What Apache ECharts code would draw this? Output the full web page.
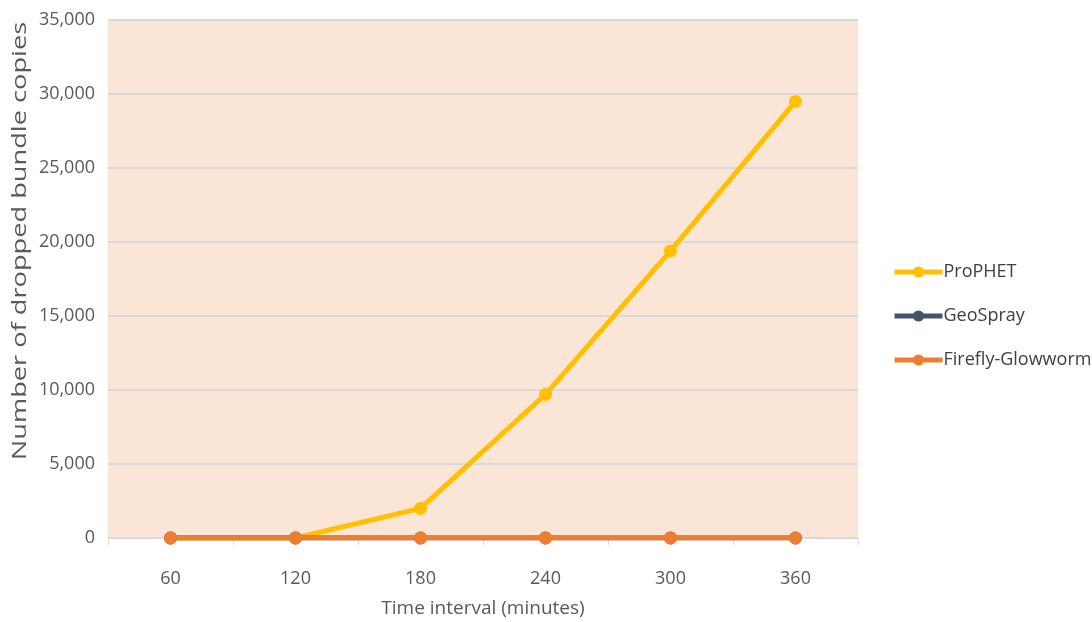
<!DOCTYPE html>
<html>
<head>
<meta charset="utf-8">
<script src="https://cdn.jsdelivr.net/npm/echarts@6/dist/echarts.min.js"></script>
<style>
  html, body { margin: 0; padding: 0; background: #ffffff; }
  #chart { width: 1092px; height: 622px; }
</style>
</head>
<body>
<div id="chart"></div>
<script>
// Time intervals in minutes
const categories = ['60', '120', '180', '240', '300', '360'];

// Dropped bundle copies per routing protocol
const prophet = [0, 0, 2000, 9700, 19400, 29500];
const geoSpray = [0, 0, 0, 0, 0, 0];
const fireflyGlowworm = [0, 0, 0, 0, 0, 0];

const seriesNames = ['ProPHET', 'GeoSpray', 'Firefly-Glowworm'];
const seriesColors = ['#FFC000', '#44546A', '#ED7D31'];
const seriesData = [prophet, geoSpray, fireflyGlowworm];

const FONT = 'Open Sans';
const TEXT = '#595959';

const chart = echarts.init(document.getElementById('chart'), null, { renderer: 'canvas' });

chart.setOption({
  backgroundColor: '#ffffff',
  animation: false,
  grid: {
    left: 108, right: 234, top: 20, bottom: 84,
    outerBoundsMode: 'none',
    containLabel: false,
    show: true,
    backgroundColor: '#FBE5D6',
    borderWidth: 0
  },
  legend: {
    orient: 'vertical',
    left: 887,
    top: 258,
    itemWidth: 48,
    itemHeight: 14,
    itemGap: 26,
    data: seriesNames,
    lineStyle: { width: 5 },
    textStyle: { fontFamily: FONT, fontSize: 18, color: '#404040', padding: [0, 0, 0, -4] }
  },
  xAxis: {
    type: 'category',
    data: categories,
    boundaryGap: true,
    name: 'Time interval (minutes)',
    nameLocation: 'middle',
    nameGap: 61,
    nameTextStyle: { fontFamily: FONT, fontSize: 19, color: TEXT },
    axisLine: { lineStyle: { color: '#D9D9D9', width: 1 } },
    axisTick: { show: true, length: 7, lineStyle: { color: '#D9D9D9' } },
    axisLabel: { fontFamily: FONT, fontSize: 18, color: TEXT, margin: 32 }
  },
  yAxis: {
    type: 'value',
    min: 0,
    max: 35000,
    interval: 5000,
    axisLine: { show: false },
    axisTick: { show: false },
    splitLine: { lineStyle: { color: '#D9D9D9', width: 2 } },
    axisLabel: {
      fontFamily: FONT, fontSize: 18, color: TEXT, margin: 13,
      formatter: v => v.toLocaleString('en-US')
    }
  },
  graphic: [{
    type: 'text',
    x: 20,
    y: 241,
    rotation: Math.PI / 2,
    scaleX: 1.36,
    style: {
      text: 'Number of dropped bundle copies',
      fontFamily: FONT,
      fontSize: 20,
      fill: TEXT,
      align: 'center',
      verticalAlign: 'middle'
    }
  }],
  series: seriesNames.map((name, i) => ({
    name,
    type: 'line',
    data: seriesData[i],
    color: seriesColors[i],
    symbol: 'circle',
    symbolSize: 13,
    lineStyle: { width: 5, color: seriesColors[i] },
    itemStyle: { color: seriesColors[i] },
    z: 2 + i
  }))
});
</script>
</body>
</html>
